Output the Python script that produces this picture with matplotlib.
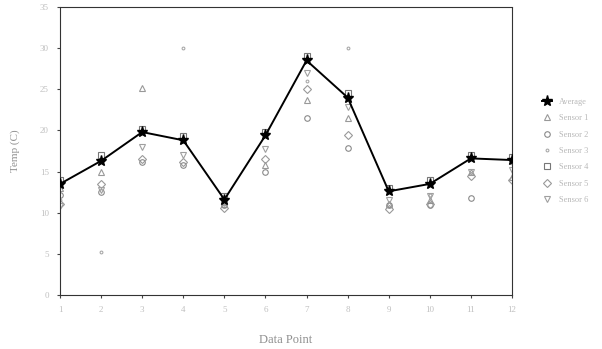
import matplotlib
matplotlib.use('Agg')
import matplotlib.pyplot as plt

# data
points = [1, 2, 3, 4, 5, 6, 7, 8, 9, 10, 11, 12]
average = [13.5, 16.3, 19.8, 18.8, 11.6, 19.4, 28.5, 24.0, 12.6, 13.5, 16.6, 16.4]
sensor1 = [13.0, 14.9, 25.2, 18.8, 11.0, 15.8, 23.7, 21.5, 11.0, 11.5, 14.9, 14.3]
sensor2 = [12.2, 12.5, 16.2, 15.8, 10.9, 15.0, 21.5, 17.9, 10.9, 10.9, 11.8, 16.4]
sensor3 = [11.5, 5.2, 19.7, 30.0, 11.8, 19.4, 26.0, 30.0, 12.5, 12.2, 16.6, 16.0]
sensor4 = [14.0, 17.0, 20.2, 19.3, 12.0, 19.8, 29.0, 24.5, 13.0, 14.0, 17.0, 16.8]
sensor5 = [11.0, 13.5, 16.5, 16.2, 10.6, 16.5, 25.0, 19.5, 10.5, 11.0, 14.5, 14.0]
sensor6 = [10.8, 12.8, 18.0, 17.0, 11.2, 17.8, 27.0, 22.8, 11.5, 12.0, 15.0, 15.2]
yticks = [0, 5, 10, 15, 20, 25, 30, 35]

plt.rcParams['font.family'] = ['Liberation Serif', 'DejaVu Serif']

fig = plt.figure(figsize=(6.02, 3.49), dpi=100)
ax = fig.add_axes([0.0997, 0.1547, 0.7508, 0.8253])

others = [sensor1, sensor2, sensor3, sensor4, sensor5, sensor6]
names = ['Sensor 1', 'Sensor 2', 'Sensor 3', 'Sensor 4', 'Sensor 5', 'Sensor 6']
marks = ['^', 'o', '.', 's', 'D', 'v']
greys = ['#999999', '#8a8a8a', '#aaaaaa', '#777777', '#999999', '#a0a0a0']

ax.plot(points, average, '-', color='black', lw=1.4, marker='*', ms=8, label='Average', zorder=5)
for vals, name, m, c in zip(others, names, marks, greys):
    ax.plot(points, vals, ls='none', marker=m, ms=4, mfc='none', mec=c, mew=0.8, label=name)

ax.set_xlim(1, 12)
ax.set_ylim(0, 35)
ax.set_xticks(points)
ax.set_yticks(yticks)
ax.tick_params(labelsize=6.5, labelcolor='#c0c0c0', length=2, color='#444444', pad=6)
for s in ax.spines.values():
    s.set_color('#333333')
    s.set_linewidth(0.8)
    s.set_linestyle((0, (1, 1)))

ax.set_xlabel('Data Point', size=9, color='#909090', labelpad=14)
ax.set_ylabel('Temp (C)', size=8, color='#909090', labelpad=14)

ax.legend(loc='center left', bbox_to_anchor=(1.05, 0.5), frameon=False,
          fontsize=6, labelcolor='#b8b8b8', handlelength=1.2, labelspacing=1.0)

fig.savefig('out.png', dpi=100)
